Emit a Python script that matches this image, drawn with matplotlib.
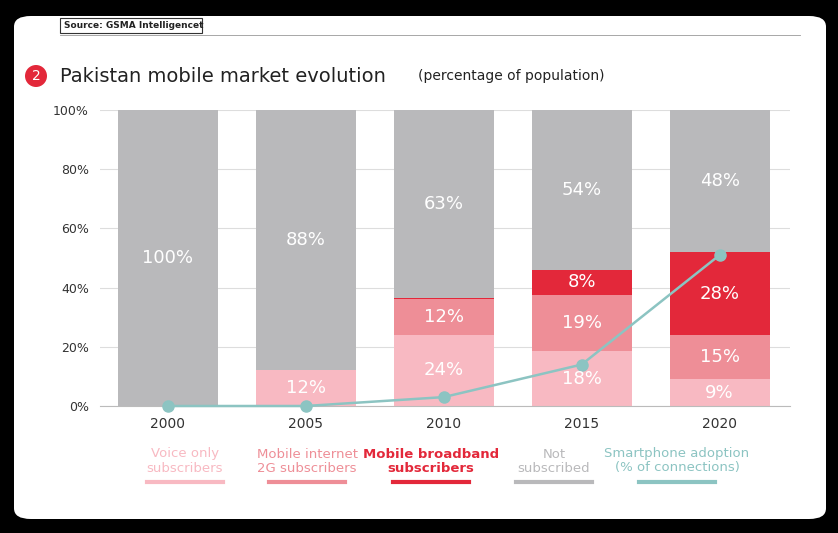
import matplotlib
matplotlib.use("Agg")
import matplotlib.pyplot as plt
from matplotlib.patches import FancyBboxPatch, Ellipse, Rectangle
import numpy as np

years = ["2000", "2005", "2010", "2015", "2020"]
voice = [0, 12, 24, 18.5, 9]
g2 = [0, 0, 12, 19, 15]
bb = [0, 0, 0.6, 8.5, 28]
notsub = [100, 88, 63.4, 54, 48]
smart = [0, 0, 3, 14, 51]
lbl_voice = ["", "12%", "24%", "18%", "9%"]
lbl_g2 = ["", "", "12%", "19%", "15%"]
lbl_bb = ["", "", "", "8%", "28%"]
lbl_not = ["100%", "88%", "63%", "54%", "48%"]

C_VOICE, C_2G, C_BB, C_NOT, C_LINE = "#f8b9c2", "#ee8e97", "#e3283a", "#b9b9bb", "#8cc4c2"
NARROW = ["Liberation Sans Narrow", "DejaVu Sans"]

fig = plt.figure(figsize=(8.38, 5.33), dpi=100)
fig.patch.set_facecolor("black")
fig.add_artist(FancyBboxPatch((14/838, 14/533), 812/838, 503/533, boxstyle="round,pad=0,rounding_size=0.02",
                              transform=fig.transFigure, fc="white", ec="none", zorder=-10))
fig.add_artist(Rectangle((60/838, 1-33/533), 142/838, 15/533, transform=fig.transFigure, fc="white", ec="#333", lw=0.8))
fig.text(64/838, 1-26/533, "Source: GSMA Intelligencet", fontsize=6.5, fontweight="bold", va="center", color="#222")
fig.add_artist(plt.Line2D([60/838, 800/838], [1-35/533, 1-35/533], color="#999", lw=0.6))
fig.add_artist(Ellipse((36/838, 1-76/533), 22/838, 22/533, transform=fig.transFigure, fc="#e3283a", ec="none"))
fig.text(36/838, 1-76/533, "2", color="white", fontsize=10, ha="center", va="center", family=NARROW)
fig.text(60/838, 1-76/533, "Pakistan mobile market evolution", fontsize=14, va="center", color="#222")
fig.text(418/838, 1-76/533, "(percentage of population)", fontsize=10, va="center", color="#222")

ax = fig.add_axes([100/838, 1-406/533, 690/838, 296/533])
ax.set_zorder(5)
ax.patch.set_alpha(0)
x = np.arange(len(years))
w = 0.725
b1 = np.array(voice); b2 = b1 + g2; b3 = b2 + bb
ax.bar(x, voice, w, color=C_VOICE, zorder=2)
ax.bar(x, g2, w, bottom=b1, color=C_2G, zorder=2)
ax.bar(x, bb, w, bottom=b2, color=C_BB, zorder=2)
ax.bar(x, notsub, w, bottom=b3, color=C_NOT, zorder=2)
for i in range(len(x)):
    for lab, bot, h in [(lbl_voice[i], 0, voice[i]), (lbl_g2[i], b1[i], g2[i]), (lbl_bb[i], b2[i], bb[i]), (lbl_not[i], b3[i], notsub[i])]:
        if lab:
            yy = bot + h/2 if i != 3 or lab != "18%" else 9
            ax.text(i, yy, lab, color="white", ha="center", va="center", fontsize=13, family=NARROW, zorder=4)
ax.plot(x, smart, color=C_LINE, lw=1.8, marker="o", ms=8, zorder=3, clip_on=False)
ax.set_xlim(-0.49, 4.51)
ax.set_ylim(0, 100)
ax.set_yticks(range(0, 101, 20))
ax.set_yticklabels([f"{v}%" for v in range(0, 101, 20)], fontsize=9, color="#333")
ax.set_xticks(x)
ax.set_xticklabels(years, fontsize=10, color="#333")
ax.tick_params(length=0, pad=8)
ax.grid(axis="y", color="#dddddd", lw=0.8, zorder=0)
for s in ["top", "right", "left"]:
    ax.spines[s].set_visible(False)
ax.spines["bottom"].set_color("#bbb")

legend = [("Voice only\nsubscribers", C_VOICE, 185), ("Mobile internet\n2G subscribers", C_2G, 307),
          ("Mobile broadband\nsubscribers", C_BB, 431), ("Not\nsubscribed", C_NOT, 554),
          ("Smartphone adoption\n(% of connections)", C_LINE, 677)]
for txt, c, cx in legend:
    fig.text(cx/838, 1-461/533, txt, color=c, fontsize=9.5, ha="center", va="center", linespacing=1.1,
             fontweight="bold" if c == C_BB else "normal")
    fig.add_artist(plt.Line2D([(cx-38)/838, (cx+38)/838], [1-482/533]*2, color=c, lw=3))
fig.savefig("out.png", dpi=100, facecolor=fig.get_facecolor())
